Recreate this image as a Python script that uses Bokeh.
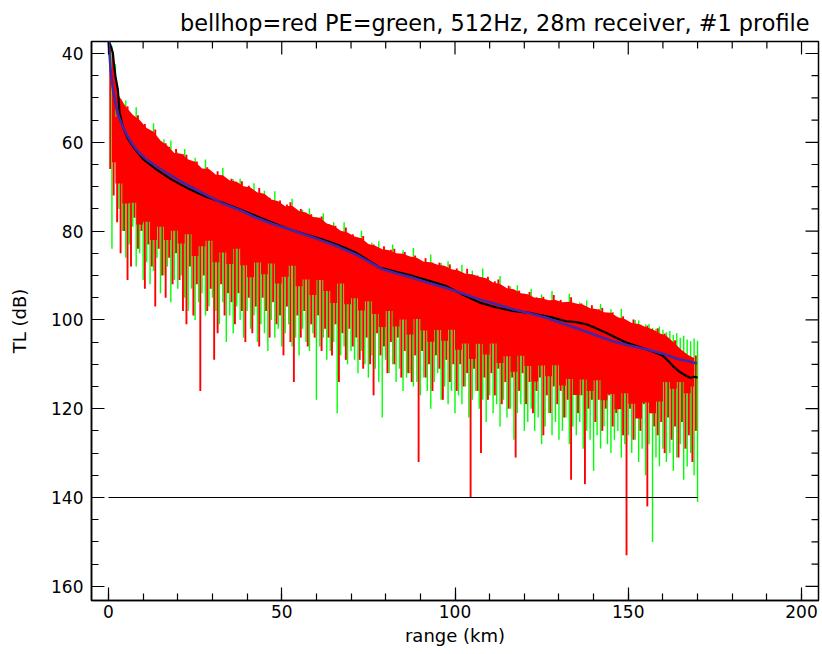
import numpy as np
from bokeh.plotting import figure
from bokeh.models import Range1d, FixedTicker
from bokeh.embed import file_html
from bokeh.resources import INLINE

# ---------------- data ----------------
band_rng = list(range(1, 170, 2))  # km, centres of 2-km bins

# inner upper edge of the solid bellhop (red) band
red_top = [38.5, 49.5, 52.0, 53.8, 55.0, 56.8, 57.6, 59.6, 60.8, 62.4,
           62.6, 63.9, 64.4, 65.9, 66.0, 67.3, 67.4, 68.6, 68.9, 69.9,
           70.2, 71.3, 71.6, 72.9, 73.3, 74.4, 74.3, 75.5, 75.8, 76.8,
           77.0, 78.3, 78.8, 79.9, 80.3, 81.2, 81.6, 82.9, 83.3, 84.1,
           84.3, 85.0, 85.1, 85.7, 86.0, 86.9, 87.0, 87.6, 87.8, 88.6,
           88.9, 89.6, 89.7, 90.3, 90.6, 91.6, 91.9, 92.9, 93.1, 94.0,
           94.2, 95.0, 95.1, 95.6, 95.5, 96.0, 95.9, 96.3, 96.6, 97.4,
           97.6, 98.3, 98.4, 99.4, 99.8, 100.7, 100.9, 101.6, 102.1, 103.0,
           103.6, 105.0, 106.5, 107.8, 108.6]

# ragged lower edge of the solid part of the red band
red_body = [64.5, 69.3, 73.8, 73.6, 78.5, 77.9, 82.0, 79.0, 82.0, 79.9,
            82.8, 80.7, 85.6, 83.4, 82.2, 87.0, 84.8, 87.4, 84.0, 87.7,
            90.4, 87.1, 89.7, 87.3, 91.8, 90.3, 87.8, 92.4, 90.9, 94.4,
            91.0, 93.5, 96.2, 91.8, 96.5, 95.1, 97.9, 95.8, 98.7, 101.6,
            98.0, 101.5, 99.9, 103.3, 99.8, 102.4, 104.9, 102.3, 104.7, 102.2,
            106.7, 105.3, 108.8, 105.4, 107.8, 105.3, 109.7, 108.2, 111.7, 108.1,
            110.4, 113.9, 110.3, 112.7, 110.2, 114.8, 113.3, 116.9, 113.4, 116.0,
            113.6, 118.1, 116.7, 120.1, 116.5, 118.9, 122.2, 118.6, 121.0, 118.4,
            114.0, 115.5, 114.0, 116.5, 115.0]

# bellhop (red) oscillation: peaks (lowest TL) and troughs (highest TL) per km
red_rng = [k + 0.5 for k in range(170)]
red_peak = [37.9, 43.1, 49.3, 50.3, 52.8, 51.9, 53.6, 55.2, 53.9, 56.1,
            55.9, 58.1, 57.7, 57.1, 59.8, 61.2, 60.2, 61.0, 62.7, 61.5,
            63.8, 62.7, 62.8, 64.8, 64.7, 64.3, 67.2, 66.2, 65.6, 67.6,
            67.6, 66.5, 68.4, 68.0, 69.9, 68.2, 69.3, 70.6, 68.8, 70.6,
            69.8, 71.9, 71.5, 70.3, 72.4, 73.7, 72.5, 73.1, 74.3, 73.1,
            75.5, 74.0, 73.5, 75.7, 75.7, 75.0, 77.3, 76.5, 76.2, 77.7,
            77.4, 76.7, 79.1, 78.4, 80.2, 78.8, 80.0, 81.1, 79.2, 81.3,
            80.7, 82.5, 81.9, 81.1, 83.5, 84.5, 83.0, 83.7, 85.0, 83.4,
            85.5, 84.2, 84.0, 85.8, 85.5, 84.7, 87.2, 86.1, 85.5, 87.3,
            87.3, 86.1, 87.9, 87.1, 88.9, 87.1, 87.9, 89.2, 87.5, 89.3,
            88.4, 90.3, 89.8, 88.5, 90.4, 91.4, 90.0, 90.5, 91.6, 90.3,
            92.8, 91.3, 90.9, 93.1, 93.2, 92.3, 94.7, 93.8, 93.4, 94.9,
            94.6, 93.7, 95.8, 94.9, 96.5, 94.8, 95.7, 96.6, 94.4, 96.3,
            95.5, 97.1, 96.1, 94.9, 96.9, 97.9, 96.3, 97.0, 98.3, 96.7,
            98.8, 97.6, 97.3, 99.1, 98.8, 98.3, 100.9, 99.8, 99.2, 101.1,
            101.1, 99.9, 101.7, 101.1, 102.9, 101.3, 102.2, 103.6, 101.9, 103.8,
            103.1, 105.4, 105.2, 104.6, 107.1, 108.6, 107.5, 108.2, 109.5, 108.0]
red_trough = [66, 72, 78, 85, 80, 91, 88, 77, 84, 80,
              93, 83, 88, 97, 84, 90, 95, 86, 92, 85,
              91, 98, 101, 88, 99, 92, 116, 90, 98, 93,
              109, 103, 92, 99, 94, 96, 101, 94, 98, 105,
              95, 103, 97, 106, 95, 98, 104, 96, 101, 99,
              108, 97, 105, 114, 99, 104, 98, 106, 101, 104,
              99, 107, 102, 104, 108, 101, 114, 103, 109, 102,
              106, 104, 109, 111, 104, 110, 117, 103, 108, 106,
              112, 105, 110, 104, 113, 107, 112, 114, 108, 132,
              107, 113, 110, 116, 108, 111, 118, 109, 114, 110,
              116, 110, 115, 112, 140, 111, 116, 130, 113, 118,
              112, 117, 111, 119, 114, 120, 113, 131, 116, 112,
              119, 114, 121, 116, 113, 126, 117, 121, 115, 119,
              116, 122, 118, 136, 115, 121, 117, 137, 120, 118,
              123, 118, 125, 120, 117, 124, 121, 119, 126, 153,
              120, 127, 122, 125, 119, 142, 121, 124, 126, 123,
              130, 122, 127, 124, 131, 123, 129, 126, 132, 125]

# PE (green) oscillation: peaks and troughs per km
green_rng = [k + 1.0 for k in range(170)]
green_peak = [38.3, 42.4, 50.0, 50.8, 50.6, 53.7, 55.5, 52.1, 55.6, 56.7,
              57.8, 57.2, 55.7, 59.3, 60.9, 59.3, 61.4, 59.6, 63.6, 62.3,
              63.4, 61.5, 65.3, 64.4, 63.5, 66.2, 67.7, 63.9, 66.8, 67.9,
              68.6, 67.6, 65.8, 69.2, 70.3, 68.3, 70.1, 68.2, 71.7, 70.1,
              71.1, 69.2, 72.8, 71.8, 70.9, 73.5, 74.8, 71.0, 74.0, 75.0,
              75.7, 74.6, 72.7, 76.0, 77.1, 75.2, 76.7, 74.9, 78.6, 76.9,
              77.8, 76.0, 79.8, 78.9, 78.0, 80.6, 81.9, 78.0, 80.9, 81.9,
              82.6, 81.6, 79.9, 83.3, 84.6, 82.6, 84.2, 82.3, 85.9, 84.2,
              85.1, 83.0, 86.5, 85.4, 84.3, 86.6, 87.7, 83.8, 86.7, 87.6,
              88.3, 87.2, 85.3, 88.3, 89.3, 87.2, 88.7, 86.8, 90.4, 88.8,
              89.7, 87.6, 91.1, 90.0, 88.9, 91.2, 92.3, 88.4, 91.3, 92.2,
              93.0, 91.9, 90.1, 93.4, 94.6, 92.5, 94.1, 92.2, 95.8, 94.1,
              95.0, 93.0, 96.5, 95.4, 94.3, 96.6, 97.6, 93.5, 96.1, 96.9,
              97.4, 96.2, 94.1, 97.1, 98.0, 96.0, 97.5, 95.6, 99.2, 97.5,
              98.4, 96.4, 99.8, 98.7, 97.6, 100.2, 101.4, 97.5, 100.4, 101.4,
              101.2, 100.0, 100.1, 101.5, 101.0, 100.9, 101.8, 102.0, 101.5, 102.2,
              102.8, 102.5, 103.4, 103.0, 104.0, 103.6, 104.4, 104.8, 104.2, 104.7]
green_trough = [84, 62, 75, 80, 86, 83, 79, 88, 85, 91,
                87, 92, 89, 86, 94, 90, 88, 96, 91, 93,
                90, 95, 98, 93, 100, 96, 94, 99, 97, 95,
                98, 101, 96, 105, 99, 103, 97, 100, 104, 98,
                102, 99, 105, 101, 103, 107, 100, 104, 102, 106,
                103, 101, 106, 104, 108, 102, 105, 107, 103, 118,
                106, 104, 109, 107, 105, 121, 108, 106, 110, 107,
                109, 112, 107, 110, 113, 108, 111, 114, 122, 109,
                112, 110, 114, 111, 116, 113, 112, 115, 114, 117,
                113, 116, 120, 114, 112, 118, 115, 119, 116, 121,
                117, 119, 115, 122, 118, 116, 120, 118, 123, 117,
                121, 119, 124, 118, 122, 120, 127, 121, 119, 125,
                123, 120, 125, 122, 128, 124, 121, 126, 123, 127,
                125, 122, 128, 124, 126, 123, 129, 125, 127, 134,
                126, 129, 124, 128, 130, 127, 125, 131, 128, 126,
                130, 127, 132, 129, 135, 128, 150, 131, 133, 129,
                132, 130, 134, 131, 128, 136, 133, 130, 135, 141]

blue_rng = [0.0, 0.3, 0.6, 1.0, 1.5, 2.2, 3.0, 4.1, 5.5, 7.0, 8.9, 11.0, 13.8,
            17.0, 20.0, 23.4, 28.0, 33.0, 38.0, 42.6, 47.0, 52.2, 57.0, 61.8,
            66.5, 71.5, 75.0, 79.1, 83.0, 87.8, 92.0, 97.5, 102.0, 107.1, 112.0,
            116.7, 121.5, 126.3, 131.0, 135.9, 140.5, 145.5, 150.0, 155.2, 160.0,
            164.8, 167.5, 169.8]
blue_tl = [37.0, 40.0, 43.5, 46.5, 49.0, 51.9, 54.3, 56.4, 58.6, 60.6, 62.4, 63.9, 65.4,
           67.0, 68.4, 69.9, 71.8, 73.8, 75.3, 77.0, 78.3, 79.6, 80.9, 82.2,
           83.6, 85.3, 86.8, 88.6, 89.5, 90.5, 91.6, 92.8, 94.0, 95.4, 96.5,
           97.6, 98.5, 99.5, 100.8, 102.1, 103.4, 104.8, 105.7, 106.6, 107.6,
           108.9, 109.3, 109.8]

black_rng = [0.0, 0.5, 1.25, 1.6, 2.0, 2.7, 3.2, 4.1, 5.5, 7.0, 10.0, 13.8, 18.0,
             23.4, 28.0, 33.0, 37.5, 42.6, 47.0, 52.2, 57.0, 61.8, 66.5, 71.5,
             75.0, 78.2, 83.0, 87.8, 92.5, 97.5, 102.0, 107.1, 112.0, 116.7, 121.5,
             125.0, 128.2, 132.1, 135.0, 137.9, 140.5, 143.6, 146.5, 149.4, 152.0,
             155.2, 158.0, 160.0, 161.5, 162.9, 164.5, 166.7, 168.0, 169.0, 170.0]
black_tl = [37.0, 38.0, 39.8, 42.5, 45.1, 48.1, 53.3, 56.4, 59.0, 60.9, 63.8, 66.1, 68.3,
            70.6, 72.2, 73.6, 75.0, 76.6, 78.0, 79.6, 80.8, 81.9, 83.2, 84.9,
            86.6, 88.2, 89.2, 90.1, 91.2, 92.4, 94.2, 96.1, 97.2, 98.0, 98.4,
            99.0, 99.5, 100.3, 100.5, 101.0, 101.8, 102.9, 104.0, 105.1, 105.8,
            106.6, 107.4, 108.1, 109.2, 110.4, 111.5, 112.6, 113.1, 112.8, 113.0]

floor_rng = [0, 170]
floor_tl = [140, 140]

x_ticks = [0, 50, 100, 150, 200]
x_minor = list(range(0, 201, 10))
y_ticks = [40, 60, 80, 100, 120, 140, 160]
y_minor = list(range(40, 161, 5))

# ---------------- figure ----------------
FONT = "DejaVu Sans"
X0, X1 = -4.9, 204.9
Y_BOT, Y_TOP = 163.2, 37.3
FW, FH = 727, 559

p = figure(frame_width=FW, frame_height=FH,
           x_range=Range1d(X0, X1), y_range=Range1d(Y_BOT, Y_TOP),
           output_backend="svg", toolbar_location=None,
           min_border_left=91, min_border_right=3, min_border_top=41,
           min_border_bottom=44,
           title="bellhop=red PE=green, 512Hz, 28m receiver, #1 profile")
p.background_fill_color = "white"
p.border_fill_color = "white"
p.grid.visible = False
p.outline_line_color = "black"
p.outline_line_width = 1.5

p.title.text_font = FONT
p.title.text_font_size = "22.4px"
p.title.text_font_style = "normal"
p.title.text_color = "black"
p.title.align = "right"
p.title.offset = 9
p.title.standoff = 12

bx = np.array(band_rng, dtype=float)
mean_at_band = np.interp(bx, blue_rng, blue_tl)

# PE (green) first, bellhop (red) on top
p.segment(x0=green_rng, y0=green_peak, x1=green_rng, y1=green_trough,
          line_color="#00ff00", line_width=1.4)
p.varea(x=bx, y1=red_top, y2=mean_at_band + 2.0, fill_color="#ff0000")
p.varea_step(x=bx, y1=mean_at_band, y2=red_body, step_mode="center",
             fill_color="#ff0000")
p.segment(x0=red_rng, y0=red_peak, x1=red_rng, y1=red_trough,
          line_color="#ff0000", line_width=1.9)

p.line(black_rng, black_tl, line_color="black", line_width=2.2)
p.line(blue_rng, blue_tl, line_color="#4326a6", line_width=2.6)
p.line(floor_rng, floor_tl, line_color="black", line_width=1.2)

def style(ax):
    ax.axis_line_color = "black"
    ax.axis_line_width = 1.5
    ax.major_tick_line_color = "black"
    ax.minor_tick_line_color = "black"
    ax.major_tick_line_width = 1.2
    ax.minor_tick_line_width = 1.2
    ax.major_tick_in = 13
    ax.major_tick_out = 0
    ax.minor_tick_in = 7
    ax.minor_tick_out = 0
    ax.major_label_text_font = FONT
    ax.major_label_text_font_size = "17px"
    ax.major_label_text_color = "black"
    ax.axis_label_text_font = FONT
    ax.axis_label_text_font_size = "18px"
    ax.axis_label_text_font_style = "normal"
    ax.axis_label_text_color = "black"

p.xaxis.ticker = FixedTicker(ticks=x_ticks, minor_ticks=x_minor)
p.yaxis.ticker = FixedTicker(ticks=y_ticks, minor_ticks=y_minor)
style(p.xaxis[0])
style(p.yaxis[0])
p.xaxis.axis_label = "range (km)"
p.yaxis.axis_label = "TL (dB)"
p.xaxis.major_label_standoff = 4
p.xaxis.axis_label_standoff = 4
p.yaxis.major_label_standoff = 8
p.yaxis.axis_label_standoff = 18

# mirrored inward ticks on the top and right frame edges
px_per_dB = FH / (Y_BOT - Y_TOP)
px_per_km = FW / (X1 - X0)
def top_ticks(vals, length):
    v = np.array(vals, dtype=float)
    p.segment(x0=v, y0=np.full(len(v), Y_TOP), x1=v,
              y1=np.full(len(v), Y_TOP + length / px_per_dB),
              line_color="black", line_width=1.2)
def right_ticks(vals, length):
    v = np.array(vals, dtype=float)
    p.segment(x0=np.full(len(v), X1), y0=v,
              x1=np.full(len(v), X1 - length / px_per_km), y1=v,
              line_color="black", line_width=1.2)
top_ticks(x_ticks, 13)
top_ticks([t for t in x_minor if t not in x_ticks], 7)
right_ticks(y_ticks, 13)
right_ticks([t for t in y_minor if t not in y_ticks], 7)

open("out.html", "w").write(file_html(p, INLINE))
